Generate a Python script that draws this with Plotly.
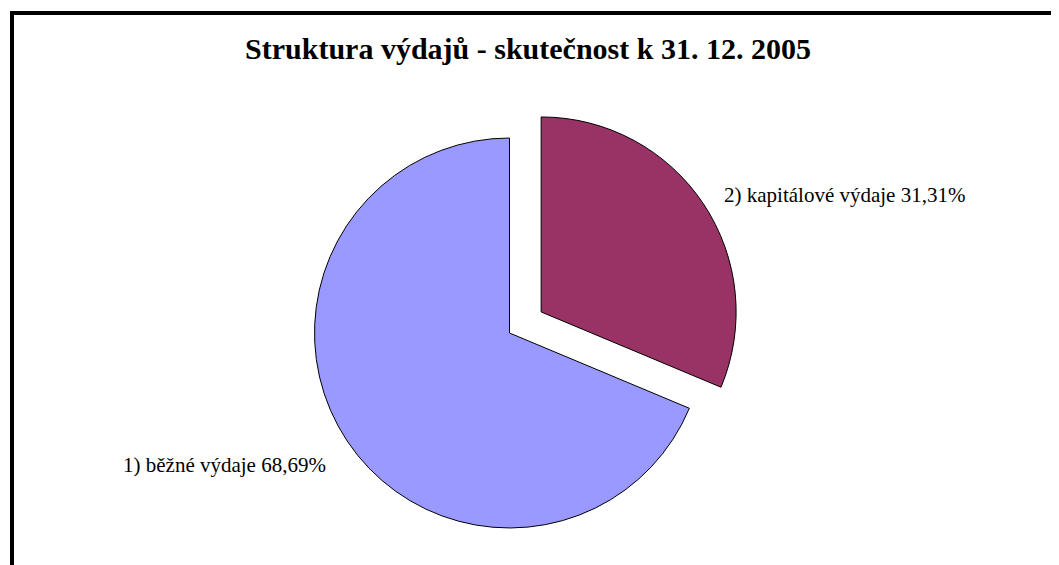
import plotly.graph_objects as go

labels = ["1) běžné výdaje", "2) kapitálové výdaje"]
values = [68.69, 31.31]
colors = ["#9999FF", "#993366"]
pulls = [0, 0.195]
title = "Struktura výdajů - skutečnost k 31. 12. 2005"

W, H = 1059, 565
FONT = "Liberation Serif"

total = sum(values)
label_texts = [
    "{} {:.2f}%".format(lab, 100 * v / total).replace(".", ",")
    for lab, v in zip(labels, values)
]

# slice 2) starts at 12 o'clock and runs clockwise, so feed the slices reversed
fig = go.Figure(
    go.Pie(
        labels=labels[::-1],
        values=values[::-1],
        sort=False,
        direction="clockwise",
        rotation=0,
        pull=pulls[::-1],
        marker=dict(colors=colors[::-1], line=dict(color="black", width=1)),
        textinfo="none",
        hoverinfo="label+percent",
        automargin=False,
        domain=dict(x=[0.2375, 0.7096], y=[0.0124, 0.8372]),
        showlegend=False,
    )
)

# data labels placed beside their slices, as in the original
fig.add_annotation(text=label_texts[0], x=0.3022, y=0.1912, xref="paper", yref="paper",
                   xanchor="right", yanchor="middle", showarrow=False,
                   font=dict(family=FONT, size=21, color="black"))
fig.add_annotation(text=label_texts[1], x=0.6742, y=0.669, xref="paper", yref="paper",
                   xanchor="left", yanchor="middle", showarrow=False,
                   font=dict(family=FONT, size=21, color="black"))

# frame of the chart area (left and top edges visible)
fig.add_shape(type="line", xref="paper", yref="paper",
              x0=4 / W, x1=4 / W, y0=0, y1=1 - 3 / H,
              line=dict(color="black", width=4))
fig.add_shape(type="line", xref="paper", yref="paper",
              x0=2 / W, x1=1, y0=1 - 5 / H, y1=1 - 5 / H,
              line=dict(color="black", width=4))

fig.update_layout(
    width=W,
    height=H,
    margin=dict(l=0, r=0, t=0, b=0),
    paper_bgcolor="white",
    plot_bgcolor="white",
    title=dict(
        text="<b>" + title + "</b>",
        x=520 / W,
        xanchor="center",
        y=1 - 40 / H,
        yanchor="middle",
        font=dict(family=FONT, size=30, color="black"),
    ),
)

fig.write_html("out.html")
